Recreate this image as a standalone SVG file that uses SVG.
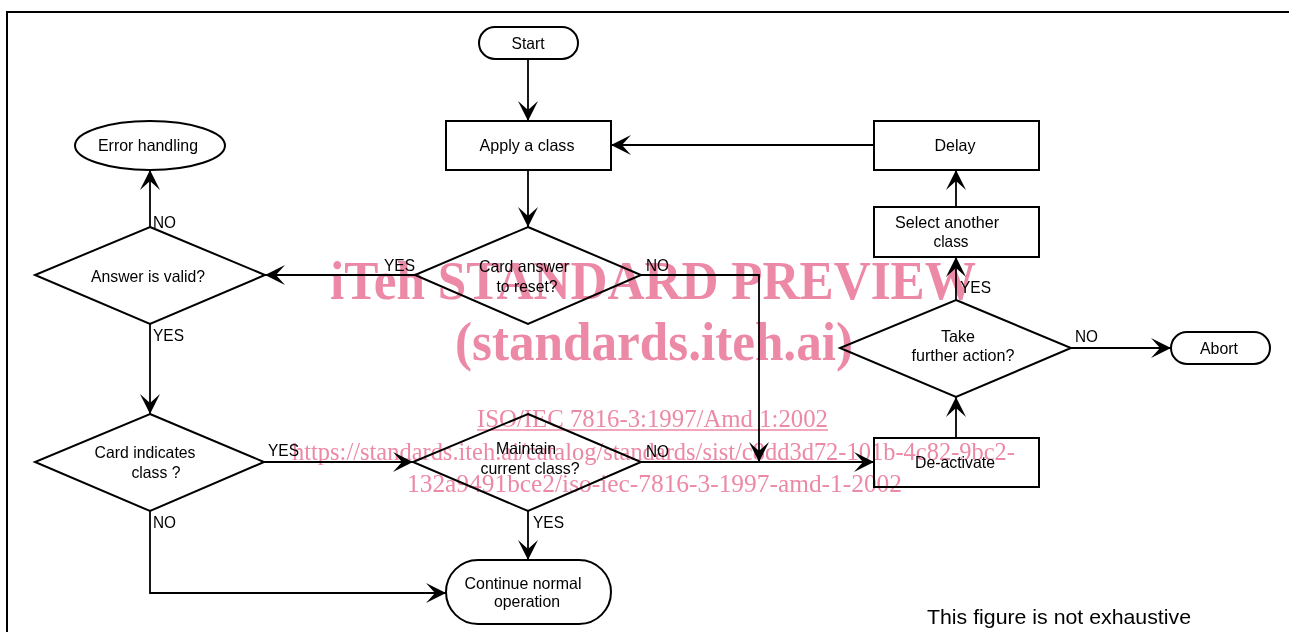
<svg xmlns="http://www.w3.org/2000/svg" width="1289" height="632" viewBox="0 0 1289 632">
<defs>
<marker id="arr" markerUnits="userSpaceOnUse" markerWidth="22" markerHeight="22" refX="20" refY="10" orient="auto" viewBox="0 0 22 22">
<path d="M20,10 L0,0 L9,10 L0,20 Z" fill="#000"/>
</marker>
<style>
.n{fill:#fff;stroke:#000;stroke-width:2}
.t{font-family:"Liberation Sans",Arial,sans-serif;font-size:16.5px;fill:#000;text-anchor:middle}
.l{font-family:"Liberation Sans",Arial,sans-serif;font-size:16.5px;fill:#000}
.c{fill:none;stroke:#000;stroke-width:1.8;marker-end:url(#arr)}
.w{font-family:"Liberation Serif","Times New Roman",serif;fill:#ec89a6}
.wb{font-weight:bold;font-size:55px}
.wr{font-size:25px}
</style>
</defs>
<rect x="0" y="0" width="1289" height="632" fill="#fff"/>
<rect x="7" y="12" width="1300" height="640" fill="none" stroke="#000" stroke-width="2"/>

<g id="connectors">
<path class="c" d="M528,59 V121"/>
<path class="c" d="M528,170 V227"/>
<path class="c" d="M415,275 H265"/>
<path class="c" d="M150,227 V170"/>
<path class="c" d="M150,324 V414"/>
<path class="c" d="M264,462 H413"/>
<path class="c" d="M150,511 V593 H446"/>
<path class="c" d="M528,511 V560"/>
<path class="c" d="M641,462 H874"/>
<path class="c" d="M641,275 H759 V462"/>
<path class="c" d="M956,438 V397"/>
<path class="c" d="M956,300 V257"/>
<path class="c" d="M956,207 V170"/>
<path class="c" d="M874,145 H611"/>
<path class="c" d="M1071,348 H1171"/>
</g>

<g id="labels">
<text class="l" x="384" y="271" textLength="31" lengthAdjust="spacingAndGlyphs">YES</text>
<text class="l" x="153" y="228" textLength="23" lengthAdjust="spacingAndGlyphs">NO</text>
<text class="l" x="646" y="271" textLength="23" lengthAdjust="spacingAndGlyphs">NO</text>
<text class="l" x="153" y="341" textLength="31" lengthAdjust="spacingAndGlyphs">YES</text>
<text class="l" x="268" y="456" textLength="31" lengthAdjust="spacingAndGlyphs">YES</text>
<text class="l" x="646" y="457" textLength="23" lengthAdjust="spacingAndGlyphs">NO</text>
<text class="l" x="153" y="528" textLength="23" lengthAdjust="spacingAndGlyphs">NO</text>
<text class="l" x="533" y="528" textLength="31" lengthAdjust="spacingAndGlyphs">YES</text>
<text class="l" x="960" y="293" textLength="31" lengthAdjust="spacingAndGlyphs">YES</text>
<text class="l" x="1075" y="342" textLength="23" lengthAdjust="spacingAndGlyphs">NO</text>
</g>

<g id="start">
<rect class="n" x="479" y="27" width="99" height="32" rx="16"/>
<text class="t" x="528" y="49" textLength="33" lengthAdjust="spacingAndGlyphs">Start</text>
</g>
<g id="apply">
<rect class="n" x="446" y="121" width="165" height="49"/>
<text class="t" x="527" y="151" textLength="95" lengthAdjust="spacingAndGlyphs">Apply a class</text>
</g>
<g id="error">
<ellipse class="n" cx="150" cy="145.5" rx="75" ry="24.5"/>
<text class="t" x="148" y="151" textLength="100" lengthAdjust="spacingAndGlyphs">Error handling</text>
</g>
<g id="delay">
<rect class="n" x="874" y="121" width="165" height="49"/>
<text class="t" x="955" y="151" textLength="41" lengthAdjust="spacingAndGlyphs">Delay</text>
</g>
<g id="select">
<rect class="n" x="874" y="207" width="165" height="50"/>
<text class="t" x="947" y="228" textLength="104" lengthAdjust="spacingAndGlyphs">Select another</text>
<text class="t" x="951" y="247" textLength="35" lengthAdjust="spacingAndGlyphs">class</text>
</g>
<g id="cardanswer">
<polygon class="n" points="528,227 641,275 528,324 415,275"/>
<text class="t" x="524" y="272" textLength="90" lengthAdjust="spacingAndGlyphs">Card answer</text>
<text class="t" x="527" y="292" textLength="61" lengthAdjust="spacingAndGlyphs">to reset?</text>
</g>
<g id="answervalid">
<polygon class="n" points="150,227 265,275 150,324 35,275"/>
<text class="t" x="148" y="282" textLength="114" lengthAdjust="spacingAndGlyphs">Answer is valid?</text>
</g>
<g id="take">
<polygon class="n" points="956,300 1071,348 956,397 840,348"/>
<text class="t" x="958" y="342" textLength="34" lengthAdjust="spacingAndGlyphs">Take</text>
<text class="t" x="963" y="361" textLength="103" lengthAdjust="spacingAndGlyphs">further action?</text>
</g>
<g id="abort">
<rect class="n" x="1171" y="332" width="99" height="32" rx="16"/>
<text class="t" x="1219" y="354" textLength="38" lengthAdjust="spacingAndGlyphs">Abort</text>
</g>
<g id="cardindicates">
<polygon class="n" points="150,414 264,462 150,511 35,462"/>
<text class="t" x="145" y="458" textLength="101" lengthAdjust="spacingAndGlyphs">Card indicates</text>
<text class="t" x="156" y="478" textLength="49" lengthAdjust="spacingAndGlyphs">class ?</text>
</g>
<g id="maintain">
<polygon class="n" points="528,414 641,462 528,511 413,462"/>
<text class="t" x="526" y="454" textLength="60" lengthAdjust="spacingAndGlyphs">Maintain</text>
<text class="t" x="530" y="474" textLength="99" lengthAdjust="spacingAndGlyphs">current class?</text>
</g>
<g id="deactivate">
<rect class="n" x="874" y="438" width="165" height="49"/>
<text class="t" x="955" y="468" textLength="80" lengthAdjust="spacingAndGlyphs">De-activate</text>
</g>
<g id="continue">
<rect class="n" x="446" y="560" width="165" height="64" rx="32"/>
<text class="t" x="523" y="589" textLength="117" lengthAdjust="spacingAndGlyphs">Continue normal</text>
<text class="t" x="527" y="607" textLength="66" lengthAdjust="spacingAndGlyphs">operation</text>
</g>

<text x="927" y="624" font-family="Liberation Sans, Arial, sans-serif" font-size="21" fill="#000" textLength="264" lengthAdjust="spacingAndGlyphs">This figure is not exhaustive</text>

<g id="watermark" style="mix-blend-mode:multiply">
<text class="w wb" x="330" y="299" textLength="646" lengthAdjust="spacingAndGlyphs">iTeh STANDARD PREVIEW</text>
<text class="w wb" x="455" y="360" textLength="398" lengthAdjust="spacingAndGlyphs">(standards.iteh.ai)</text>
<text class="w wr" x="477" y="427" textLength="351" lengthAdjust="spacingAndGlyphs">ISO/IEC 7816-3:1997/Amd 1:2002</text>
<line x1="477" y1="430" x2="828" y2="430" stroke="#ec89a6" stroke-width="1.5"/>
<text class="w wr" x="292" y="460" textLength="723" lengthAdjust="spacingAndGlyphs">https://standards.iteh.ai/catalog/standards/sist/c8dd3d72-101b-4c82-9bc2-</text>
<text class="w wr" x="407" y="492" textLength="495" lengthAdjust="spacingAndGlyphs">132a9491bce2/iso-iec-7816-3-1997-amd-1-2002</text>
</g>
</svg>
